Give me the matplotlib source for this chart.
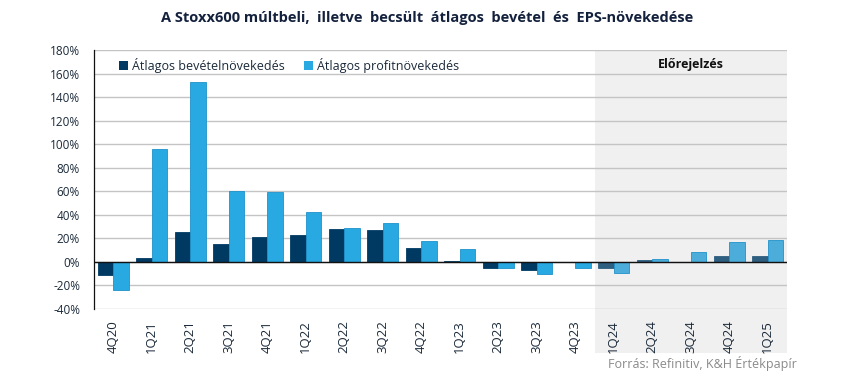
import matplotlib
matplotlib.use('Agg')
import matplotlib.pyplot as plt
import matplotlib.transforms as mtransforms
from matplotlib.patches import Rectangle, Patch
from matplotlib.ticker import FuncFormatter, MultipleLocator
import numpy as np

plt.rcParams['font.family'] = ['Open Sans', 'DejaVu Sans']

# ── adatok ───────────────────────────────────────────────
quarters = ['4Q20', '1Q21', '2Q21', '3Q21', '4Q21', '1Q22', '2Q22', '3Q22', '4Q22',
            '1Q23', '2Q23', '3Q23', '4Q23', '1Q24', '2Q24', '3Q24', '4Q24', '1Q25']
revenue_growth = [-11, 3.7, 25, 15.6, 21.5, 23, 28.3, 27.4, 12.2,
                  1.1, -5.4, -7, 0, -5.4, 1.4, 0, 5.4, 5.4]
profit_growth = [-24, 96, 153, 60.5, 59.7, 42, 29, 33.4, 18,
                 11.3, -5.4, -10.5, -5.4, -9.6, 2.8, 8.8, 17.3, 19]
forecast_start = 13  # 1Q24-től előrejelzés

DARK = '#003a63'
LIGHT = '#29a9e1'
DARK_FC = '#2e5e80'
LIGHT_FC = '#4dadda'
TEXT = '#1b2a3a'

fig = plt.figure(figsize=(8.5, 3.77), dpi=100)
ax = fig.add_axes([0.1106, 0.1804, 0.8153, 0.687])

x = np.arange(len(quarters))
w = 0.4
dark_cols = [DARK if i < forecast_start else DARK_FC for i in x]
light_cols = [LIGHT if i < forecast_start else LIGHT_FC for i in x]
ax.bar(x - w / 2, revenue_growth, w, color=dark_cols, edgecolor=dark_cols,
       linewidth=0.6, zorder=3)
ax.bar(x + w / 2, profit_growth, w, color=light_cols, edgecolor='#1f92c9',
       linewidth=0.6, zorder=3)

# előrejelzés sáv
trans = mtransforms.blended_transform_factory(ax.transData, ax.transAxes)
ax.add_patch(Rectangle((forecast_start - 0.5, -0.168), len(quarters) - forecast_start,
                       1.168, transform=trans, facecolor='#f0f0f0', edgecolor='none',
                       zorder=0, clip_on=False))
ax.text((forecast_start - 0.5 + len(quarters) - 0.5) / 2, 168, 'Előrejelzés',
        ha='center', va='center', fontsize=9, fontweight='bold', color='#111111',
        zorder=4)

ax.set_xlim(-0.5, len(quarters) - 0.5)
ax.set_ylim(-40, 180)
ax.yaxis.set_major_locator(MultipleLocator(20))
ax.yaxis.set_major_formatter(FuncFormatter(lambda v, p: f'{v:.0f}%'))
ax.grid(axis='y', color='#c4c4c4', linewidth=1, zorder=1)
ax.axhline(0, color='#111111', linewidth=1, zorder=4)
ax.set_facecolor('none')

for s in ['top', 'right', 'bottom']:
    ax.spines[s].set_visible(False)
ax.spines['left'].set_color('#111111')
ax.spines['left'].set_linewidth(0.9)

ax.set_xticks(x)
ax.set_xticklabels(quarters, rotation=90, fontsize=9.5, color=TEXT)
ax.tick_params(axis='x', length=0, pad=8)
ax.tick_params(axis='y', length=0, labelsize=8.5, labelcolor=TEXT, pad=10)

handles = [Patch(facecolor=DARK), Patch(facecolor=LIGHT)]
leg = ax.legend(handles, ['Átlagos bevételnövekedés', 'Átlagos profitnövekedés'],
                loc='upper left', bbox_to_anchor=(0.02, 1.012), ncol=2, frameon=False,
                fontsize=9, handlelength=0.7, handleheight=0.7, handletextpad=0.3,
                columnspacing=1.6)
for t in leg.get_texts():
    t.set_color(TEXT)

fig.text(0.503, 0.952, 'A Stoxx600 múltbeli,  illetve  becsült  átlagos  bevétel  és  EPS-növekedése',
         ha='center', va='center', fontsize=10.5, fontweight='bold', color='#14213d')
fig.text(0.937, 0.037, 'Forrás: Refinitiv, K&H Értékpapír', ha='right', va='center',
         fontsize=9, color='#8a8a8a')

fig.savefig('out.png', dpi=100)
